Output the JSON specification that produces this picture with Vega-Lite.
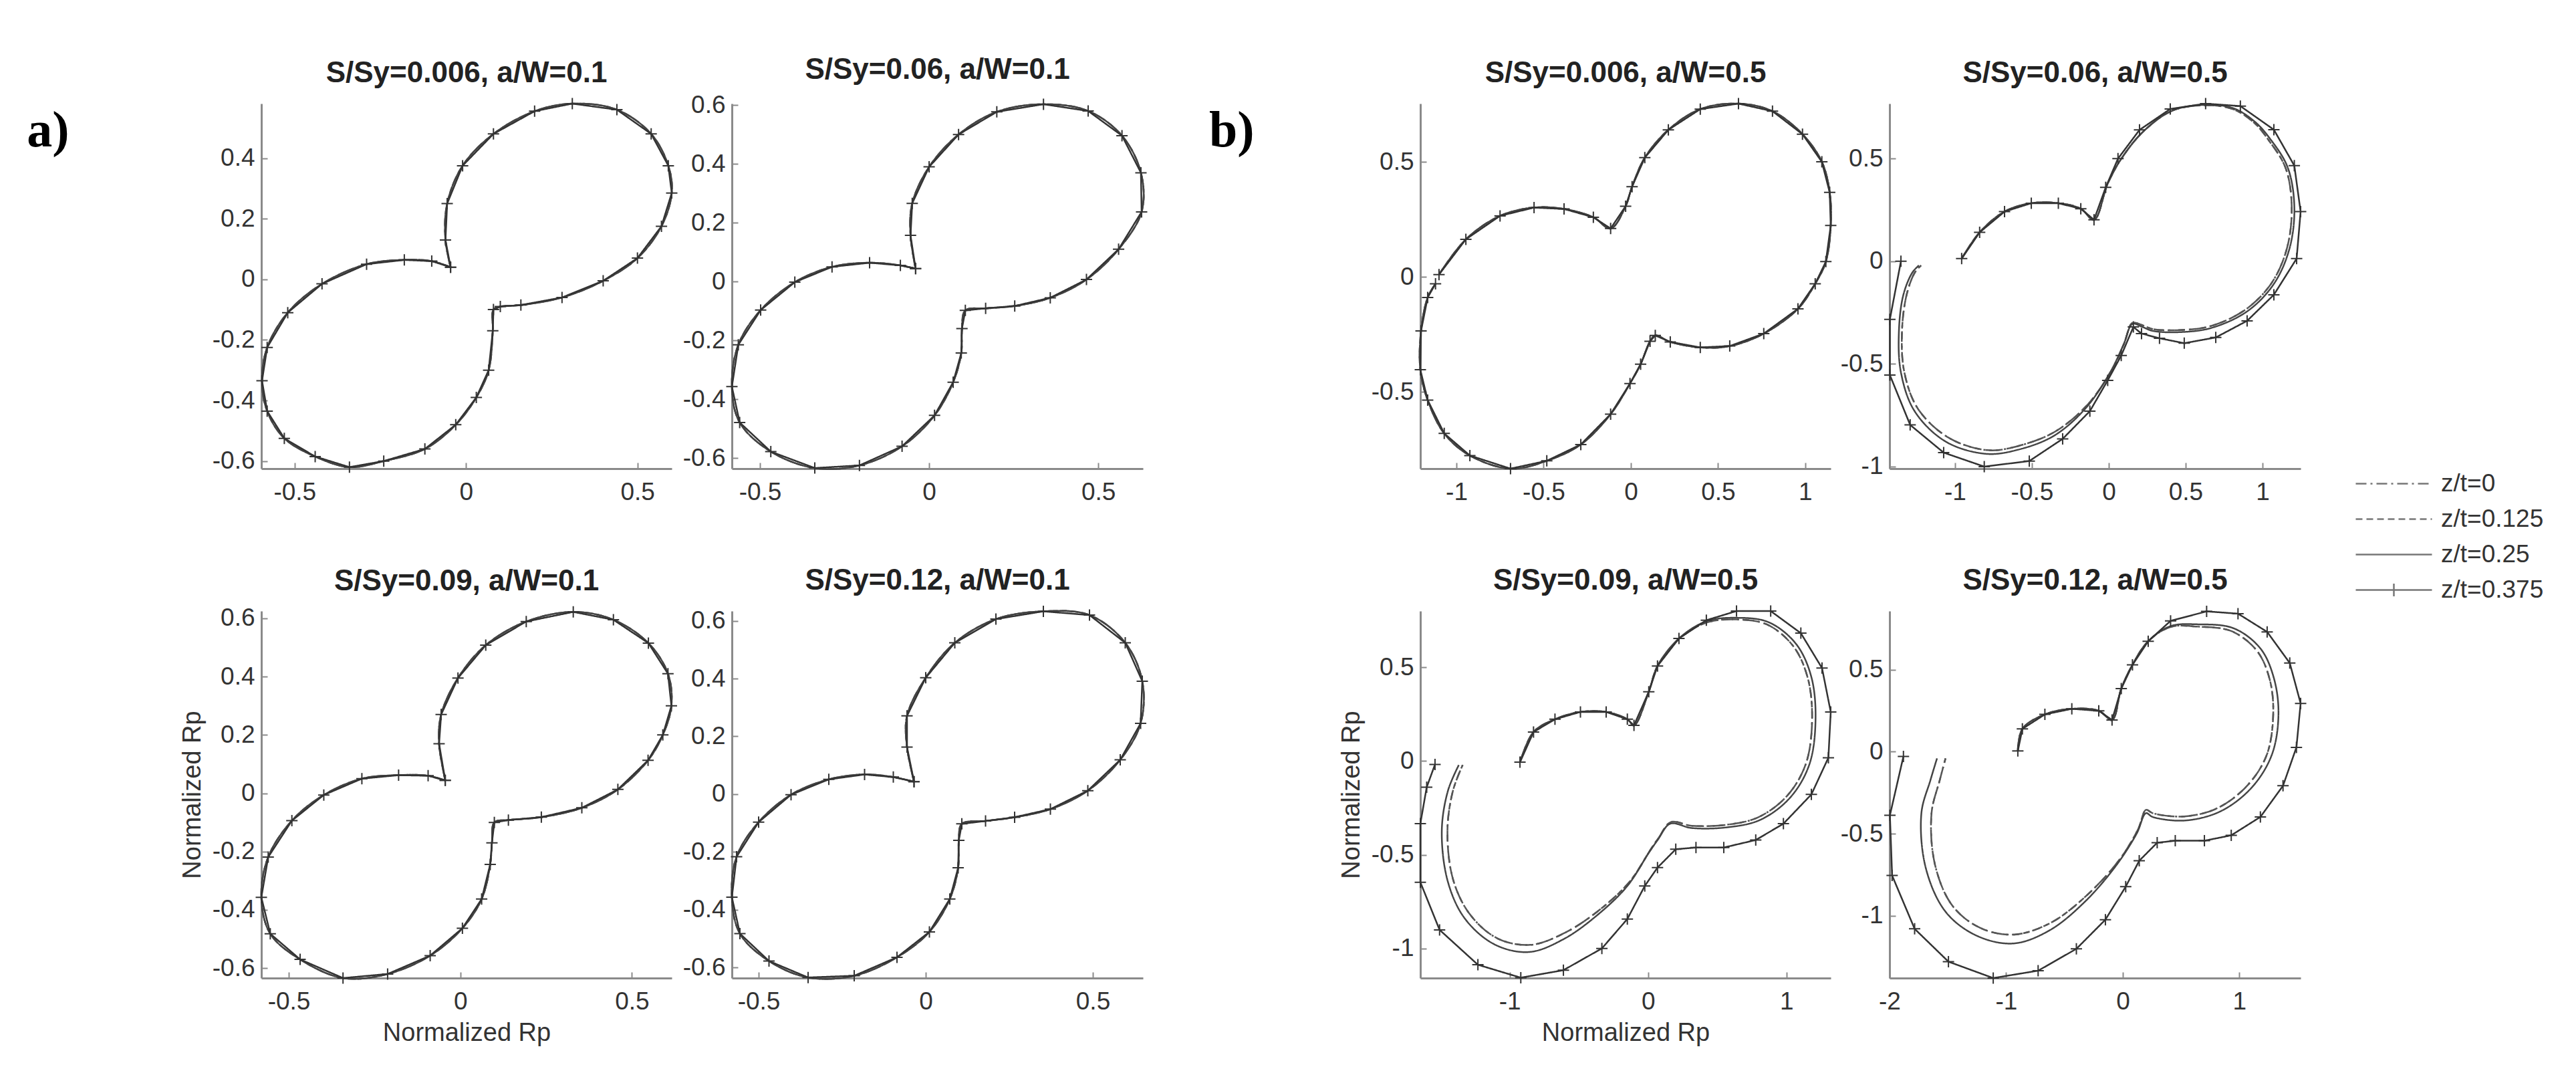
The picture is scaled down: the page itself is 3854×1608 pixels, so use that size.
{
"$schema":"https://vega.github.io/schema/vega-lite/v6.json",
"background":"white",
"padding":{"left":40,"top":83,"right":10,"bottom":10},
"config":{
 "view":{"stroke":null},
 "font":"Liberation Sans",
 "axis":{"grid":false,"domainColor":"#8a8a8a","domainWidth":3,"tickColor":"#8a8a8a","tickWidth":2,"tickSize":-9,"labelFontSize":37,"labelColor":"#333","labelFont":"Liberation Sans","titleFont":"Liberation Sans","titleFontSize":38,"titleFontWeight":"normal","titleColor":"#333","labelFlush":false,"labelOverlap":false,"titlePadding":10,"format":"~g","labelExpr":"replace(datum.label,'\u2212','-')"},
 "axisX":{"labelPadding":26},
 "axisY":{"labelPadding":19},
 "title":{"font":"Liberation Sans","fontSize":44,"fontWeight":"bold","color":"#222","offset":11,"baseline":"alphabetic","frame":"group"},
 "legend":{"orient":"none","legendX":3170,"legendY":548,"symbolType":"M-3,0H3","symbolSize":1444,"symbolStrokeWidth":2.5,"symbolStrokeColor":"#777","labelFontSize":37,"labelColor":"#333","labelOffset":50,"rowPadding":14,"padding":0}
},
"datasets":{
"a1":[{"x":-0.045,"y":0.04},{"x":-0.06,"y":0.13},{"x":-0.055,"y":0.25},{"x":-0.01,"y":0.375},{"x":0.08,"y":0.48},{"x":0.2,"y":0.555},{"x":0.31,"y":0.58},{"x":0.44,"y":0.56},{"x":0.54,"y":0.48},{"x":0.59,"y":0.375},{"x":0.6,"y":0.285},{"x":0.57,"y":0.175},{"x":0.5,"y":0.07},{"x":0.4,"y":-0.005},{"x":0.28,"y":-0.06},{"x":0.16,"y":-0.085},{"x":0.1,"y":-0.09},{"x":0.08,"y":-0.1},{"x":0.078,"y":-0.17},{"x":0.066,"y":-0.3},{"x":0.03,"y":-0.39},{"x":-0.03,"y":-0.48},{"x":-0.12,"y":-0.56},{"x":-0.24,"y":-0.6},{"x":-0.34,"y":-0.62},{"x":-0.44,"y":-0.585},{"x":-0.53,"y":-0.525},{"x":-0.58,"y":-0.435},{"x":-0.595,"y":-0.335},{"x":-0.58,"y":-0.225},{"x":-0.52,"y":-0.11},{"x":-0.42,"y":-0.015},{"x":-0.29,"y":0.05},{"x":-0.18,"y":0.064},{"x":-0.1,"y":0.06},{"x":-0.045,"y":0.04}],
"a2":[{"x":-0.04,"y":0.044},{"x":-0.055,"y":0.157},{"x":-0.05,"y":0.266},{"x":0.0,"y":0.39},{"x":0.087,"y":0.5},{"x":0.2,"y":0.577},{"x":0.338,"y":0.603},{"x":0.47,"y":0.58},{"x":0.57,"y":0.496},{"x":0.626,"y":0.37},{"x":0.628,"y":0.237},{"x":0.56,"y":0.11},{"x":0.465,"y":0.007},{"x":0.358,"y":-0.055},{"x":0.253,"y":-0.083},{"x":0.167,"y":-0.091},{"x":0.107,"y":-0.098},{"x":0.097,"y":-0.16},{"x":0.095,"y":-0.243},{"x":0.071,"y":-0.342},{"x":0.016,"y":-0.455},{"x":-0.08,"y":-0.56},{"x":-0.206,"y":-0.625},{"x":-0.338,"y":-0.634},{"x":-0.468,"y":-0.578},{"x":-0.56,"y":-0.479},{"x":-0.583,"y":-0.357},{"x":-0.564,"y":-0.215},{"x":-0.498,"y":-0.097},{"x":-0.397,"y":-0.002},{"x":-0.287,"y":0.05},{"x":-0.176,"y":0.064},{"x":-0.085,"y":0.055},{"x":-0.04,"y":0.044}],
"a3":[{"x":-0.044,"y":0.044},{"x":-0.062,"y":0.17},{"x":-0.056,"y":0.27},{"x":-0.007,"y":0.395},{"x":0.074,"y":0.508},{"x":0.192,"y":0.589},{"x":0.329,"y":0.622},{"x":0.446,"y":0.595},{"x":0.548,"y":0.515},{"x":0.605,"y":0.41},{"x":0.615,"y":0.3},{"x":0.59,"y":0.2},{"x":0.547,"y":0.113},{"x":0.459,"y":0.013},{"x":0.354,"y":-0.05},{"x":0.236,"y":-0.082},{"x":0.14,"y":-0.092},{"x":0.099,"y":-0.1},{"x":0.092,"y":-0.17},{"x":0.087,"y":-0.244},{"x":0.062,"y":-0.363},{"x":0.006,"y":-0.463},{"x":-0.088,"y":-0.557},{"x":-0.212,"y":-0.62},{"x":-0.342,"y":-0.634},{"x":-0.467,"y":-0.57},{"x":-0.554,"y":-0.482},{"x":-0.58,"y":-0.357},{"x":-0.56,"y":-0.219},{"x":-0.491,"y":-0.094},{"x":-0.398,"y":-0.006},{"x":-0.287,"y":0.05},{"x":-0.18,"y":0.062},{"x":-0.094,"y":0.06},{"x":-0.044,"y":0.044}],
"a4":[{"x":-0.035,"y":0.043},{"x":-0.056,"y":0.163},{"x":-0.056,"y":0.271},{"x":0.0,"y":0.403},{"x":0.087,"y":0.524},{"x":0.21,"y":0.606},{"x":0.352,"y":0.633},{"x":0.49,"y":0.62},{"x":0.597,"y":0.524},{"x":0.648,"y":0.391},{"x":0.643,"y":0.245},{"x":0.582,"y":0.119},{"x":0.485,"y":0.012},{"x":0.373,"y":-0.052},{"x":0.266,"y":-0.08},{"x":0.179,"y":-0.093},{"x":0.108,"y":-0.103},{"x":0.099,"y":-0.16},{"x":0.097,"y":-0.255},{"x":0.072,"y":-0.363},{"x":0.011,"y":-0.477},{"x":-0.086,"y":-0.565},{"x":-0.214,"y":-0.629},{"x":-0.352,"y":-0.635},{"x":-0.469,"y":-0.578},{"x":-0.556,"y":-0.483},{"x":-0.58,"y":-0.357},{"x":-0.566,"y":-0.217},{"x":-0.5,"y":-0.097},{"x":-0.403,"y":-0.002},{"x":-0.29,"y":0.051},{"x":-0.183,"y":0.068},{"x":-0.097,"y":0.059},{"x":-0.035,"y":0.043}],
"b1":[{"x":-1.1,"y":0.01},{"x":-0.946,"y":0.163},{"x":-0.75,"y":0.265},{"x":-0.555,"y":0.301},{"x":-0.383,"y":0.295},{"x":-0.215,"y":0.259},{"x":-0.116,"y":0.21},{"x":-0.03,"y":0.307},{"x":0.007,"y":0.392},{"x":0.08,"y":0.518},{"x":0.215,"y":0.639},{"x":0.398,"y":0.729},{"x":0.617,"y":0.753},{"x":0.812,"y":0.72},{"x":0.984,"y":0.62},{"x":1.095,"y":0.5},{"x":1.14,"y":0.367},{"x":1.146,"y":0.223},{"x":1.118,"y":0.066},{"x":1.057,"y":-0.03},{"x":0.958,"y":-0.139},{"x":0.762,"y":-0.247},{"x":0.567,"y":-0.301},{"x":0.398,"y":-0.307},{"x":0.226,"y":-0.283},{"x":0.14,"y":-0.255},{"x":0.11,"y":-0.28},{"x":0.056,"y":-0.38},{"x":-0.005,"y":-0.464},{"x":-0.116,"y":-0.597},{"x":-0.287,"y":-0.729},{"x":-0.482,"y":-0.8},{"x":-0.69,"y":-0.834},{"x":-0.923,"y":-0.777},{"x":-1.07,"y":-0.681},{"x":-1.165,"y":-0.536},{"x":-1.207,"y":-0.404},{"x":-1.203,"y":-0.235},{"x":-1.165,"y":-0.09},{"x":-1.12,"y":-0.03}],
"b2i":[{"x":-0.957,"y":0.013},{"x":-0.84,"y":0.141},{"x":-0.678,"y":0.242},{"x":-0.504,"y":0.283},{"x":-0.328,"y":0.283},{"x":-0.182,"y":0.256},{"x":-0.096,"y":0.202},{"x":-0.007,"y":0.378},{"x":0.081,"y":0.499},{"x":0.227,"y":0.634},{"x":0.417,"y":0.735},{"x":0.635,"y":0.76},{"x":0.812,"y":0.74},{"x":0.95,"y":0.672},{"x":1.04,"y":0.59},{"x":1.15,"y":0.455},{"x":1.19,"y":0.269},{"x":1.16,"y":0.066},{"x":1.06,"y":-0.105},{"x":0.89,"y":-0.235},{"x":0.665,"y":-0.315},{"x":0.461,"y":-0.335},{"x":0.286,"y":-0.33},{"x":0.213,"y":-0.31},{"x":0.154,"y":-0.3},{"x":0.1,"y":-0.4},{"x":0.02,"y":-0.53},{"x":-0.14,"y":-0.7},{"x":-0.35,"y":-0.83},{"x":-0.59,"y":-0.9},{"x":-0.79,"y":-0.92},{"x":-1.04,"y":-0.86},{"x":-1.24,"y":-0.72},{"x":-1.33,"y":-0.54},{"x":-1.345,"y":-0.339},{"x":-1.315,"y":-0.163},{"x":-1.262,"y":-0.055},{"x":-1.22,"y":-0.02}],
"b2s":[{"x":-0.957,"y":0.013},{"x":-0.84,"y":0.141},{"x":-0.678,"y":0.242},{"x":-0.504,"y":0.283},{"x":-0.328,"y":0.283},{"x":-0.182,"y":0.256},{"x":-0.096,"y":0.202},{"x":-0.007,"y":0.378},{"x":0.081,"y":0.499},{"x":0.227,"y":0.634},{"x":0.417,"y":0.735},{"x":0.635,"y":0.762},{"x":0.812,"y":0.745},{"x":0.95,"y":0.68},{"x":1.046,"y":0.6},{"x":1.163,"y":0.459},{"x":1.207,"y":0.269},{"x":1.177,"y":0.066},{"x":1.074,"y":-0.11},{"x":0.9,"y":-0.244},{"x":0.665,"y":-0.325},{"x":0.461,"y":-0.345},{"x":0.286,"y":-0.339},{"x":0.213,"y":-0.318},{"x":0.154,"y":-0.305},{"x":0.096,"y":-0.406},{"x":0.009,"y":-0.541},{"x":-0.152,"y":-0.717},{"x":-0.357,"y":-0.85},{"x":-0.591,"y":-0.918},{"x":-0.796,"y":-0.938},{"x":-1.059,"y":-0.879},{"x":-1.263,"y":-0.73},{"x":-1.352,"y":-0.541},{"x":-1.365,"y":-0.339},{"x":-1.336,"y":-0.163},{"x":-1.278,"y":-0.055},{"x":-1.235,"y":-0.02}],
"b2m":[{"x":-0.957,"y":0.013},{"x":-0.84,"y":0.141},{"x":-0.678,"y":0.242},{"x":-0.504,"y":0.283},{"x":-0.328,"y":0.283},{"x":-0.182,"y":0.256},{"x":-0.096,"y":0.202},{"x":-0.02,"y":0.36},{"x":0.06,"y":0.5},{"x":0.2,"y":0.64},{"x":0.4,"y":0.742},{"x":0.63,"y":0.768},{"x":0.856,"y":0.756},{"x":1.074,"y":0.641},{"x":1.207,"y":0.466},{"x":1.248,"y":0.242},{"x":1.222,"y":0.013},{"x":1.074,"y":-0.163},{"x":0.9,"y":-0.29},{"x":0.696,"y":-0.371},{"x":0.491,"y":-0.399},{"x":0.33,"y":-0.375},{"x":0.213,"y":-0.352},{"x":0.16,"y":-0.32},{"x":0.081,"y":-0.459},{"x":-0.007,"y":-0.58},{"x":-0.123,"y":-0.73},{"x":-0.3,"y":-0.865},{"x":-0.517,"y":-0.973},{"x":-0.81,"y":-1.0},{"x":-1.074,"y":-0.932},{"x":-1.292,"y":-0.797},{"x":-1.424,"y":-0.554},{"x":-1.424,"y":-0.283},{"x":-1.352,"y":0.0}],
"b3i":[{"x":-0.926,"y":-0.006},{"x":-0.828,"y":0.155},{"x":-0.673,"y":0.223},{"x":-0.489,"y":0.262},{"x":-0.303,"y":0.262},{"x":-0.15,"y":0.223},{"x":-0.102,"y":0.19},{"x":0.005,"y":0.37},{"x":0.068,"y":0.507},{"x":0.223,"y":0.65},{"x":0.421,"y":0.738},{"x":0.639,"y":0.755},{"x":0.86,"y":0.728},{"x":1.05,"y":0.612},{"x":1.155,"y":0.44},{"x":1.185,"y":0.214},{"x":1.14,"y":-0.015},{"x":1.005,"y":-0.185},{"x":0.795,"y":-0.3},{"x":0.562,"y":-0.34},{"x":0.315,"y":-0.345},{"x":0.165,"y":-0.325},{"x":0.08,"y":-0.405},{"x":0.02,"y":-0.47},{"x":-0.13,"y":-0.64},{"x":-0.345,"y":-0.79},{"x":-0.6,"y":-0.915},{"x":-0.85,"y":-0.98},{"x":-1.09,"y":-0.945},{"x":-1.29,"y":-0.815},{"x":-1.41,"y":-0.63},{"x":-1.45,"y":-0.37},{"x":-1.41,"y":-0.157},{"x":-1.34,"y":-0.021}],
"b3s":[{"x":-0.926,"y":-0.006},{"x":-0.828,"y":0.155},{"x":-0.673,"y":0.223},{"x":-0.489,"y":0.262},{"x":-0.303,"y":0.262},{"x":-0.15,"y":0.223},{"x":-0.102,"y":0.19},{"x":0.005,"y":0.37},{"x":0.068,"y":0.507},{"x":0.223,"y":0.654},{"x":0.421,"y":0.745},{"x":0.639,"y":0.764},{"x":0.872,"y":0.74},{"x":1.07,"y":0.624},{"x":1.18,"y":0.448},{"x":1.21,"y":0.214},{"x":1.164,"y":-0.021},{"x":1.025,"y":-0.196},{"x":0.809,"y":-0.314},{"x":0.562,"y":-0.354},{"x":0.315,"y":-0.357},{"x":0.16,"y":-0.334},{"x":0.07,"y":-0.42},{"x":0.005,"y":-0.489},{"x":-0.15,"y":-0.666},{"x":-0.365,"y":-0.82},{"x":-0.612,"y":-0.95},{"x":-0.859,"y":-1.018},{"x":-1.106,"y":-0.979},{"x":-1.322,"y":-0.842},{"x":-1.446,"y":-0.646},{"x":-1.491,"y":-0.373},{"x":-1.446,"y":-0.157},{"x":-1.368,"y":-0.021}],
"b3m":[{"x":-0.926,"y":-0.006},{"x":-0.828,"y":0.155},{"x":-0.673,"y":0.223},{"x":-0.489,"y":0.262},{"x":-0.303,"y":0.262},{"x":-0.15,"y":0.223},{"x":-0.102,"y":0.19},{"x":0.005,"y":0.37},{"x":0.068,"y":0.507},{"x":0.223,"y":0.654},{"x":0.421,"y":0.751},{"x":0.639,"y":0.8},{"x":0.886,"y":0.8},{"x":1.104,"y":0.682},{"x":1.257,"y":0.496},{"x":1.32,"y":0.262},{"x":1.303,"y":0.018},{"x":1.18,"y":-0.178},{"x":0.978,"y":-0.334},{"x":0.778,"y":-0.421},{"x":0.547,"y":-0.461},{"x":0.346,"y":-0.461},{"x":0.2,"y":-0.47},{"x":0.068,"y":-0.568},{"x":-0.024,"y":-0.666},{"x":-0.15,"y":-0.842},{"x":-0.334,"y":-0.999},{"x":-0.612,"y":-1.115},{"x":-0.92,"y":-1.155},{"x":-1.23,"y":-1.086},{"x":-1.507,"y":-0.9},{"x":-1.646,"y":-0.646},{"x":-1.646,"y":-0.334},{"x":-1.6,"y":-0.139},{"x":-1.54,"y":-0.018}],
"b4i":[{"x":-0.9,"y":0.004},{"x":-0.861,"y":0.139},{"x":-0.668,"y":0.227},{"x":-0.437,"y":0.261},{"x":-0.206,"y":0.249},{"x":-0.092,"y":0.193},{"x":-0.013,"y":0.384},{"x":0.083,"y":0.529},{"x":0.218,"y":0.673},{"x":0.41,"y":0.76},{"x":0.642,"y":0.762},{"x":0.93,"y":0.735},{"x":1.15,"y":0.615},{"x":1.26,"y":0.44},{"x":1.29,"y":0.227},{"x":1.235,"y":-0.019},{"x":1.07,"y":-0.205},{"x":0.81,"y":-0.345},{"x":0.526,"y":-0.395},{"x":0.256,"y":-0.375},{"x":0.199,"y":-0.355},{"x":0.13,"y":-0.475},{"x":-0.03,"y":-0.66},{"x":-0.3,"y":-0.87},{"x":-0.61,"y":-1.04},{"x":-0.93,"y":-1.115},{"x":-1.22,"y":-1.075},{"x":-1.46,"y":-0.94},{"x":-1.61,"y":-0.69},{"x":-1.64,"y":-0.375},{"x":-1.57,"y":-0.175},{"x":-1.52,"y":-0.041}],
"b4s":[{"x":-0.9,"y":0.004},{"x":-0.861,"y":0.139},{"x":-0.668,"y":0.227},{"x":-0.437,"y":0.261},{"x":-0.206,"y":0.249},{"x":-0.092,"y":0.193},{"x":-0.013,"y":0.384},{"x":0.083,"y":0.529},{"x":0.218,"y":0.673},{"x":0.41,"y":0.765},{"x":0.642,"y":0.776},{"x":0.95,"y":0.752},{"x":1.18,"y":0.629},{"x":1.295,"y":0.45},{"x":1.335,"y":0.227},{"x":1.278,"y":-0.019},{"x":1.104,"y":-0.22},{"x":0.834,"y":-0.365},{"x":0.526,"y":-0.42},{"x":0.256,"y":-0.398},{"x":0.199,"y":-0.375},{"x":0.12,"y":-0.498},{"x":-0.052,"y":-0.689},{"x":-0.321,"y":-0.912},{"x":-0.63,"y":-1.09},{"x":-0.937,"y":-1.169},{"x":-1.246,"y":-1.124},{"x":-1.516,"y":-0.979},{"x":-1.689,"y":-0.71},{"x":-1.727,"y":-0.375},{"x":-1.65,"y":-0.175},{"x":-1.593,"y":-0.041}],
"b4m":[{"x":-0.9,"y":0.004},{"x":-0.861,"y":0.139},{"x":-0.668,"y":0.227},{"x":-0.437,"y":0.261},{"x":-0.206,"y":0.249},{"x":-0.092,"y":0.193},{"x":-0.013,"y":0.384},{"x":0.083,"y":0.529},{"x":0.218,"y":0.673},{"x":0.41,"y":0.797},{"x":0.719,"y":0.855},{"x":0.988,"y":0.841},{"x":1.238,"y":0.73},{"x":1.432,"y":0.54},{"x":1.525,"y":0.294},{"x":1.489,"y":0.026},{"x":1.374,"y":-0.208},{"x":1.18,"y":-0.398},{"x":0.93,"y":-0.51},{"x":0.7,"y":-0.543},{"x":0.45,"y":-0.543},{"x":0.295,"y":-0.555},{"x":0.141,"y":-0.665},{"x":0.025,"y":-0.823},{"x":-0.149,"y":-1.024},{"x":-0.398,"y":-1.202},{"x":-0.726,"y":-1.335},{"x":-1.111,"y":-1.38},{"x":-1.495,"y":-1.28},{"x":-1.785,"y":-1.08},{"x":-1.978,"y":-0.755},{"x":-1.997,"y":-0.388},{"x":-1.881,"y":-0.029}]
},
"spacing":86,
"resolve":{"scale":{"strokeDash":"shared"},"legend":{"strokeDash":"shared"}},
"hconcat":[
{"columns":2,"spacing":{"row":213,"column":90},"bounds":"flush","resolve":{"scale":{"strokeDash":"shared"},"legend":{"strokeDash":"shared"}},
 "concat":[
 {"width":614,"height":546,"title":"S/Sy=0.006, a/W=0.1",
  "encoding":{"x":{"field":"x","type":"quantitative","scale":{"domain":[-0.597,0.6],"nice":false,"zero":false},"axis":{"values":[-0.5,0,0.5],"format":"~g","title":null}},
   "y":{"field":"y","type":"quantitative","scale":{"domain":[-0.625,0.58],"nice":false,"zero":false},"axis":{"values":[-0.6,-0.4,-0.2,0,0.2,0.4],"format":"~g","title":null}}},
  "layer":[
   {"data":{"name":"a1"},"mark":{"type":"line","interpolate":"catmull-rom","stroke":"#555","strokeWidth":2.5},"encoding":{"order":{"value":null},"strokeDash":{"datum":"z/t=0","type":"nominal","scale":{"domain":["z/t=0","z/t=0.125","z/t=0.25","z/t=0.375"],"range":[[16,6,3,6],[10,6],[1,0],[1,0]]},"legend":{"title":null,"orient":"none","legendX":3170,"legendY":548,"encode":{"symbols":{"update":{"stroke":{"value":"#777"},"shape":[{"test":"datum.value==='z/t=0.375'","value":"M-3,0H3M0,-0.5V0.5"},{"value":"M-3,0H3"}]}}}}}}},
   {"data":{"name":"a1"},"mark":{"type":"line","interpolate":"catmull-rom","stroke":"#555","strokeWidth":2.5},"encoding":{"order":{"value":null},"strokeDash":{"datum":"z/t=0.125","type":"nominal"}}},
   {"data":{"name":"a1"},"mark":{"type":"line","interpolate":"catmull-rom","stroke":"#444","strokeWidth":2.5},"encoding":{"order":{"value":null},"strokeDash":{"datum":"z/t=0.25","type":"nominal"}}},
   {"data":{"name":"a1"},"mark":{"type":"line","stroke":"#333","strokeWidth":2.5},"encoding":{"order":{"value":null},"strokeDash":{"datum":"z/t=0.375","type":"nominal"}}},
   {"data":{"name":"a1"},"mark":{"type":"point","shape":"M-1,0H1M0,-1V1","filled":false,"size":289,"stroke":"#333","strokeWidth":2,"opacity":1}},
   {"data":{"values":[{"x":-1.281,"y":0.49,"t":"a)"}]},"mark":{"type":"text","align":"left","baseline":"middle","font":"Liberation Serif","fontSize":76,"fontWeight":"bold","color":"#000"},"encoding":{"text":{"field":"t"}}}
  ]},
 {"width":615,"height":546,"title":"S/Sy=0.06, a/W=0.1",
  "encoding":{"x":{"field":"x","type":"quantitative","scale":{"domain":[-0.583,0.632],"nice":false,"zero":false},"axis":{"values":[-0.5,0,0.5],"format":"~g","title":null}},
   "y":{"field":"y","type":"quantitative","scale":{"domain":[-0.636,0.605],"nice":false,"zero":false},"axis":{"values":[-0.6,-0.4,-0.2,0,0.2,0.4,0.6],"format":"~g","title":null}}},
  "layer":[
   {"data":{"name":"a2"},"mark":{"type":"line","interpolate":"catmull-rom","stroke":"#555","strokeWidth":2.5},"encoding":{"order":{"value":null},"strokeDash":{"datum":"z/t=0","type":"nominal"}}},
   {"data":{"name":"a2"},"mark":{"type":"line","interpolate":"catmull-rom","stroke":"#555","strokeWidth":2.5},"encoding":{"order":{"value":null},"strokeDash":{"datum":"z/t=0.125","type":"nominal"}}},
   {"data":{"name":"a2"},"mark":{"type":"line","interpolate":"catmull-rom","stroke":"#444","strokeWidth":2.5},"encoding":{"order":{"value":null},"strokeDash":{"datum":"z/t=0.25","type":"nominal"}}},
   {"data":{"name":"a2"},"mark":{"type":"line","stroke":"#333","strokeWidth":2.5},"encoding":{"order":{"value":null},"strokeDash":{"datum":"z/t=0.375","type":"nominal"}}},
   {"data":{"name":"a2"},"mark":{"type":"point","shape":"M-1,0H1M0,-1V1","filled":false,"size":289,"stroke":"#333","strokeWidth":2,"opacity":1}}
  ]},
 {"width":614,"height":549,"title":"S/Sy=0.09, a/W=0.1",
  "encoding":{"x":{"field":"x","type":"quantitative","scale":{"domain":[-0.58,0.616],"nice":false,"zero":false},"axis":{"values":[-0.5,0,0.5],"format":"~g","title":"Normalized Rp"}},
   "y":{"field":"y","type":"quantitative","scale":{"domain":[-0.634,0.625],"nice":false,"zero":false},"axis":{"values":[-0.6,-0.4,-0.2,0,0.2,0.4,0.6],"format":"~g","title":"Normalized Rp"}}},
  "layer":[
   {"data":{"name":"a3"},"mark":{"type":"line","interpolate":"catmull-rom","stroke":"#555","strokeWidth":2.5},"encoding":{"order":{"value":null},"strokeDash":{"datum":"z/t=0","type":"nominal"}}},
   {"data":{"name":"a3"},"mark":{"type":"line","interpolate":"catmull-rom","stroke":"#555","strokeWidth":2.5},"encoding":{"order":{"value":null},"strokeDash":{"datum":"z/t=0.125","type":"nominal"}}},
   {"data":{"name":"a3"},"mark":{"type":"line","interpolate":"catmull-rom","stroke":"#444","strokeWidth":2.5},"encoding":{"order":{"value":null},"strokeDash":{"datum":"z/t=0.25","type":"nominal"}}},
   {"data":{"name":"a3"},"mark":{"type":"line","stroke":"#333","strokeWidth":2.5},"encoding":{"order":{"value":null},"strokeDash":{"datum":"z/t=0.375","type":"nominal"}}},
   {"data":{"name":"a3"},"mark":{"type":"point","shape":"M-1,0H1M0,-1V1","filled":false,"size":289,"stroke":"#333","strokeWidth":2,"opacity":1}}
  ]},
 {"width":615,"height":549,"title":"S/Sy=0.12, a/W=0.1",
  "encoding":{"x":{"field":"x","type":"quantitative","scale":{"domain":[-0.58,0.65],"nice":false,"zero":false},"axis":{"values":[-0.5,0,0.5],"format":"~g","title":null}},
   "y":{"field":"y","type":"quantitative","scale":{"domain":[-0.637,0.634],"nice":false,"zero":false},"axis":{"values":[-0.6,-0.4,-0.2,0,0.2,0.4,0.6],"format":"~g","title":null}}},
  "layer":[
   {"data":{"name":"a4"},"mark":{"type":"line","interpolate":"catmull-rom","stroke":"#555","strokeWidth":2.5},"encoding":{"order":{"value":null},"strokeDash":{"datum":"z/t=0","type":"nominal"}}},
   {"data":{"name":"a4"},"mark":{"type":"line","interpolate":"catmull-rom","stroke":"#555","strokeWidth":2.5},"encoding":{"order":{"value":null},"strokeDash":{"datum":"z/t=0.125","type":"nominal"}}},
   {"data":{"name":"a4"},"mark":{"type":"line","interpolate":"catmull-rom","stroke":"#444","strokeWidth":2.5},"encoding":{"order":{"value":null},"strokeDash":{"datum":"z/t=0.25","type":"nominal"}}},
   {"data":{"name":"a4"},"mark":{"type":"line","stroke":"#333","strokeWidth":2.5},"encoding":{"order":{"value":null},"strokeDash":{"datum":"z/t=0.375","type":"nominal"}}},
   {"data":{"name":"a4"},"mark":{"type":"point","shape":"M-1,0H1M0,-1V1","filled":false,"size":289,"stroke":"#333","strokeWidth":2,"opacity":1}}
  ]}
 ]},
{"columns":2,"spacing":{"row":213,"column":88},"bounds":"flush","resolve":{"scale":{"strokeDash":"shared"},"legend":{"strokeDash":"shared"}},
 "concat":[
 {"width":614,"height":546,"title":"S/Sy=0.006, a/W=0.5",
  "encoding":{"x":{"field":"x","type":"quantitative","scale":{"domain":[-1.207,1.146],"nice":false,"zero":false},"axis":{"values":[-1,-0.5,0,0.5,1],"format":"~g","title":null}},
   "y":{"field":"y","type":"quantitative","scale":{"domain":[-0.834,0.753],"nice":false,"zero":false},"axis":{"values":[-0.5,0,0.5],"format":"~g","title":null}}},
  "layer":[
   {"data":{"name":"b1"},"mark":{"type":"line","interpolate":"catmull-rom","stroke":"#555","strokeWidth":2.5},"encoding":{"order":{"value":null},"strokeDash":{"datum":"z/t=0","type":"nominal"}}},
   {"data":{"name":"b1"},"mark":{"type":"line","interpolate":"catmull-rom","stroke":"#555","strokeWidth":2.5},"encoding":{"order":{"value":null},"strokeDash":{"datum":"z/t=0.125","type":"nominal"}}},
   {"data":{"name":"b1"},"mark":{"type":"line","interpolate":"catmull-rom","stroke":"#444","strokeWidth":2.5},"encoding":{"order":{"value":null},"strokeDash":{"datum":"z/t=0.25","type":"nominal"}}},
   {"data":{"name":"b1"},"mark":{"type":"line","stroke":"#333","strokeWidth":2.5},"encoding":{"order":{"value":null},"strokeDash":{"datum":"z/t=0.375","type":"nominal"}}},
   {"data":{"name":"b1"},"mark":{"type":"point","shape":"M-1,0H1M0,-1V1","filled":false,"size":289,"stroke":"#333","strokeWidth":2,"opacity":1}},
   {"data":{"values":[{"x":-2.418,"y":0.634,"t":"b)"}]},"mark":{"type":"text","align":"left","baseline":"middle","font":"Liberation Serif","fontSize":76,"fontWeight":"bold","color":"#000"},"encoding":{"text":{"field":"t"}}}
  ]},
 {"width":615,"height":546,"title":"S/Sy=0.06, a/W=0.5",
  "encoding":{"x":{"field":"x","type":"quantitative","scale":{"domain":[-1.426,1.248],"nice":false,"zero":false},"axis":{"values":[-1,-0.5,0,0.5,1],"format":"~g","title":null}},
   "y":{"field":"y","type":"quantitative","scale":{"domain":[-1.01,0.768],"nice":false,"zero":false},"axis":{"values":[-1,-0.5,0,0.5],"format":"~g","title":null}}},
  "layer":[
   {"data":{"name":"b2i"},"mark":{"type":"line","interpolate":"catmull-rom","stroke":"#555","strokeWidth":2.5},"encoding":{"order":{"value":null},"strokeDash":{"datum":"z/t=0","type":"nominal"}}},
   {"data":{"name":"b2i"},"mark":{"type":"line","interpolate":"catmull-rom","stroke":"#555","strokeWidth":2.5},"encoding":{"order":{"value":null},"strokeDash":{"datum":"z/t=0.125","type":"nominal"}}},
   {"data":{"name":"b2s"},"mark":{"type":"line","interpolate":"catmull-rom","stroke":"#444","strokeWidth":2.5},"encoding":{"order":{"value":null},"strokeDash":{"datum":"z/t=0.25","type":"nominal"}}},
   {"data":{"name":"b2m"},"mark":{"type":"line","stroke":"#333","strokeWidth":2.5},"encoding":{"order":{"value":null},"strokeDash":{"datum":"z/t=0.375","type":"nominal"}}},
   {"data":{"name":"b2m"},"mark":{"type":"point","shape":"M-1,0H1M0,-1V1","filled":false,"size":289,"stroke":"#333","strokeWidth":2,"opacity":1}}
  ]},
 {"width":614,"height":549,"title":"S/Sy=0.09, a/W=0.5",
  "encoding":{"x":{"field":"x","type":"quantitative","scale":{"domain":[-1.646,1.32],"nice":false,"zero":false},"axis":{"values":[-1,0,1],"format":"~g","title":"Normalized Rp"}},
   "y":{"field":"y","type":"quantitative","scale":{"domain":[-1.157,0.8],"nice":false,"zero":false},"axis":{"values":[-1,-0.5,0,0.5],"format":"~g","title":"Normalized Rp"}}},
  "layer":[
   {"data":{"name":"b3i"},"mark":{"type":"line","interpolate":"catmull-rom","stroke":"#555","strokeWidth":2.5},"encoding":{"order":{"value":null},"strokeDash":{"datum":"z/t=0","type":"nominal"}}},
   {"data":{"name":"b3i"},"mark":{"type":"line","interpolate":"catmull-rom","stroke":"#555","strokeWidth":2.5},"encoding":{"order":{"value":null},"strokeDash":{"datum":"z/t=0.125","type":"nominal"}}},
   {"data":{"name":"b3s"},"mark":{"type":"line","interpolate":"catmull-rom","stroke":"#444","strokeWidth":2.5},"encoding":{"order":{"value":null},"strokeDash":{"datum":"z/t=0.25","type":"nominal"}}},
   {"data":{"name":"b3m"},"mark":{"type":"line","stroke":"#333","strokeWidth":2.5},"encoding":{"order":{"value":null},"strokeDash":{"datum":"z/t=0.375","type":"nominal"}}},
   {"data":{"name":"b3m"},"mark":{"type":"point","shape":"M-1,0H1M0,-1V1","filled":false,"size":289,"stroke":"#333","strokeWidth":2,"opacity":1}}
  ]},
 {"width":615,"height":549,"title":"S/Sy=0.12, a/W=0.5",
  "encoding":{"x":{"field":"x","type":"quantitative","scale":{"domain":[-2,1.525],"nice":false,"zero":false},"axis":{"values":[-2,-1,0,1],"format":"~g","title":null}},
   "y":{"field":"y","type":"quantitative","scale":{"domain":[-1.38,0.857],"nice":false,"zero":false},"axis":{"values":[-1,-0.5,0,0.5],"format":"~g","title":null}}},
  "layer":[
   {"data":{"name":"b4i"},"mark":{"type":"line","interpolate":"catmull-rom","stroke":"#555","strokeWidth":2.5},"encoding":{"order":{"value":null},"strokeDash":{"datum":"z/t=0","type":"nominal"}}},
   {"data":{"name":"b4i"},"mark":{"type":"line","interpolate":"catmull-rom","stroke":"#555","strokeWidth":2.5},"encoding":{"order":{"value":null},"strokeDash":{"datum":"z/t=0.125","type":"nominal"}}},
   {"data":{"name":"b4s"},"mark":{"type":"line","interpolate":"catmull-rom","stroke":"#444","strokeWidth":2.5},"encoding":{"order":{"value":null},"strokeDash":{"datum":"z/t=0.25","type":"nominal"}}},
   {"data":{"name":"b4m"},"mark":{"type":"line","stroke":"#333","strokeWidth":2.5},"encoding":{"order":{"value":null},"strokeDash":{"datum":"z/t=0.375","type":"nominal"}}},
   {"data":{"name":"b4m"},"mark":{"type":"point","shape":"M-1,0H1M0,-1V1","filled":false,"size":289,"stroke":"#333","strokeWidth":2,"opacity":1}}
  ]}
 ]}
]
}
